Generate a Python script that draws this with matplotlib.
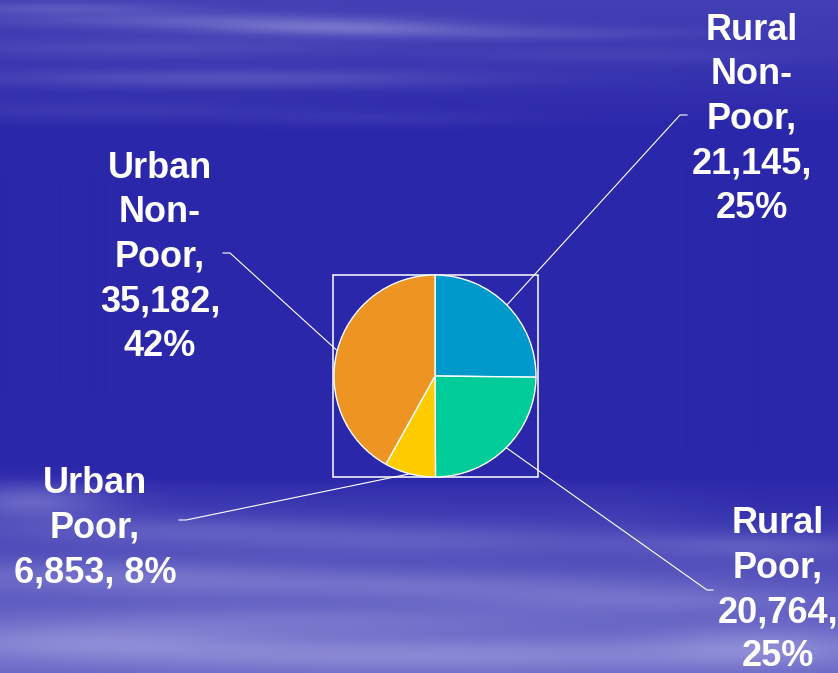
import textwrap
import numpy as np
import matplotlib.pyplot as plt
from matplotlib.patches import Rectangle

# population by poverty status
groups = ["Rural Non-Poor", "Rural Poor", "Urban Poor", "Urban Non-Poor"]
population = [21145, 20764, 6853, 35182]
percent = [25, 25, 8, 42]
slice_colors = ["#0099cc", "#00cc99", "#ffcc00", "#ee9422"]

W, H = 838, 673

# label layout: (text x, first baseline y, wrap width, line elbow, line end)
label_layout = {
    "Rural Non-Poor": (752, 40, 7, (680, 115), (687, 115)),
    "Rural Poor": (778, 533, 7, (707, 590), (713, 590)),
    "Urban Poor": (95, 493, 9, (186, 520), (179, 520)),
    "Urban Non-Poor": (160, 178, 7, (230, 253), (223, 253)),
}
line_step = 44.5

# ---- background: deep blue with soft white streaks ----
yy, xx = np.mgrid[0:H, 0:W].astype(float)
base = np.array([43, 39, 170], float) / 255
haze = np.array([195, 195, 238], float) / 255

# broad lighter bands at the top and bottom
alpha = 0.16 * np.clip(1 - yy / 130, 0, 1)
alpha += 0.40 * np.clip((yy - 478) / 170, 0, 1) ** 0.7 * (
    1 - 0.6 * np.clip((xx - 620) / 150, 0, 1) * np.clip((560 - yy) / 60, 0, 1))

streaks = [
    # cx, cy, sx, sy, amp
    (60, 8, 120, 6, 0.16),
    (200, 20, 200, 8, 0.20),
    (330, 27, 130, 7, 0.26),
    (480, 33, 200, 7, 0.16),
    (150, 48, 240, 11, 0.12),
    (230, 78, 260, 10, 0.20),
    (620, 55, 180, 9, 0.08),
    (100, 110, 200, 11, 0.09),
    (380, 118, 140, 8, 0.07),
    (30, 500, 80, 18, 0.30),
    (170, 530, 200, 15, 0.16),
    (430, 540, 200, 15, 0.14),
    (760, 545, 120, 12, 0.16),
    (110, 575, 220, 17, 0.18),
    (420, 585, 260, 15, 0.16),
    (650, 600, 180, 13, 0.14),
    (300, 620, 280, 15, 0.14),
    (80, 640, 180, 17, 0.20),
    (420, 655, 360, 17, 0.22),
    (760, 645, 110, 20, 0.18),
]
for cx, cy, sx, sy, amp in streaks:
    alpha += amp * np.exp(-((xx - cx) / sx) ** 2 - ((yy - cy) / sy) ** 2)
alpha = np.clip(alpha, 0, 0.75)[..., None]
img = base * (1 - alpha) + haze * alpha

fig = plt.figure(figsize=(W / 100, H / 100), dpi=100)
bg = fig.add_axes([0, 0, 1, 1])
bg.imshow(img, extent=(0, W, H, 0), aspect="auto")
bg.set_xlim(0, W)
bg.set_ylim(H, 0)
bg.axis("off")

# ---- pie ----
pcx, pcy, r = 435, 376, 101
pax = fig.add_axes([(pcx - r) / W, 1 - (pcy + r) / H, 2 * r / W, 2 * r / H])
wedges, _ = pax.pie(population, colors=slice_colors, startangle=90,
                    counterclock=False,
                    wedgeprops=dict(edgecolor="white", linewidth=1))
pax.set_xlim(-1, 1)
pax.set_ylim(-1, 1)
pax.axis("off")

bg.add_patch(Rectangle((pcx - r - 1, pcy - r), 2 * r + 3, 2 * r,
                       fill=False, edgecolor="white", linewidth=1.1))

# ---- labels and leader lines ----
for name, value, pct, w in zip(groups, population, percent, wedges):
    tx, ty, width, elbow, end = label_layout[name]
    text = f"{name}, {value:,}, {pct}%"
    for i, line in enumerate(textwrap.wrap(text, width=width)):
        bg.text(tx, ty + i * line_step, line, ha="center", va="baseline",
                color="white", fontsize=26, fontweight="bold",
                family="Liberation Sans")
    mid = np.deg2rad((w.theta1 + w.theta2) / 2)
    sx, sy = pcx + r * np.cos(mid), pcy - r * np.sin(mid)
    bg.plot([sx, elbow[0], end[0]], [sy, elbow[1], end[1]],
            color="white", linewidth=0.8)

fig.savefig("out.png", dpi=100)
